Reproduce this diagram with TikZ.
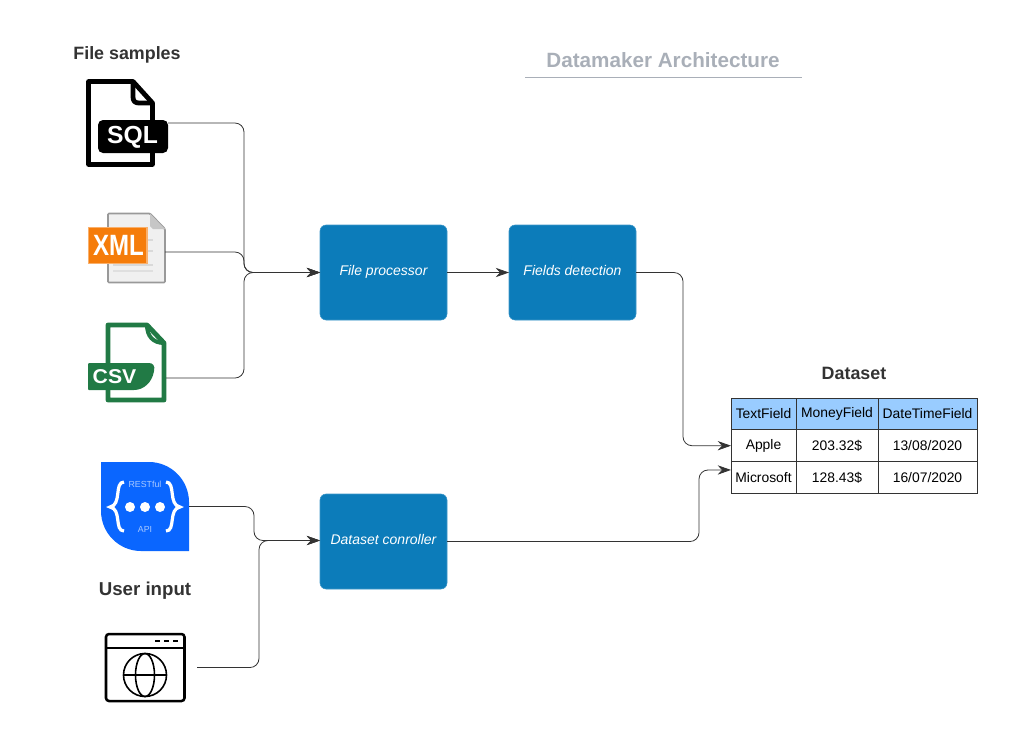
\documentclass[tikz,border=0pt]{standalone}
\usepackage{fontspec}
\setmainfont{Liberation Sans}
\usepackage{xcolor}
\usetikzlibrary{arrows.meta,calc,positioning}

\def\px{0.75pt}
\definecolor{boxblue}{HTML}{0C7CBA}
\definecolor{headblue}{HTML}{99CCFF}
\definecolor{inkgray}{HTML}{333333}
\definecolor{titlegray}{HTML}{A9AFB8}
\definecolor{sqlblack}{HTML}{000000}
\definecolor{xmlorange}{HTML}{F57C0A}
\definecolor{csvgreen}{HTML}{217A45}
\definecolor{restblue}{HTML}{0A66FF}

\tikzset{
  procbox/.style={draw=boxblue!80!white, fill=boxblue, rounded corners=6*\px, minimum width=127*\px,
    minimum height=95*\px, inner sep=0pt, outer sep=0pt, text=white, text depth=3.2pt,
    font=\fontsize{10.5pt}{12pt}\selectfont\itshape},
  cellbox/.style={draw=inkgray, line width=0.75pt, minimum height=31.7*\px, inner sep=0pt, outer sep=0pt,
    text=black, font=\fontsize{10.4pt}{12pt}\selectfont},
  headcell/.style={cellbox, fill=headblue},
  iconbox/.style={inner sep=0pt, outer sep=0pt},
  heading/.style={inner sep=0pt, text=inkgray, font=\fontsize{13.4pt}{15pt}\selectfont\bfseries},
  flow/.style={draw=inkgray, line width=0.6pt, rounded corners=9*\px, -{Stealth[length=10pt,width=7pt]}},
}

\begin{document}
\begin{tikzpicture}[x=\px, y=-\px, >=Stealth]
\useasboundingbox (0,0) rectangle (1030,751);

% =========================================================
% TITLE AND HEADINGS
% =========================================================
\node[inner sep=0pt, text=titlegray, font=\fontsize{15.5pt}{18pt}\selectfont\bfseries] (title) at (663,60.5) {Datamaker Architecture};
\draw[titlegray, line width=0.6pt] (525,77) -- (802,77);
\node[heading] (samples) at (127,55) {File samples};
\node[heading, font=\fontsize{14pt}{15pt}\selectfont\bfseries] (userinput) at (145,591) {User input};
\node[heading] (dataset) at (854,373) {Dataset};

% =========================================================
% LEFT: file icons, each one over an invisible box
% =========================================================
\node[iconbox, minimum width=82*\px, minimum height=88*\px] (sql) at (127,123) {};
\node[iconbox, minimum width=77*\px, minimum height=62*\px] (xml) at (126.5,252) {};
\node[iconbox, minimum width=78*\px, minimum height=48*\px] (csv) at (127,378) {};
\node[iconbox, minimum width=88*\px, minimum height=89*\px] (rest) at (145,506.5) {};
\node[iconbox, minimum width=92*\px, minimum height=69*\px] (web) at (151,667.5) {};

% SQL
\draw[sqlblack, line width=3.6pt, line join=round]
  (133,81.5) -- (88.5,81.5) -- (88.5,164.5) -- (152.5,164.5) -- (152.5,103) -- cycle;
\draw[sqlblack, line width=3.6pt, line join=round] (133,81.5) -- (133,97) .. controls (133,101) and (135,103) .. (139,103) -- (152.5,103);
\fill[sqlblack, rounded corners=5*\px] (98,120) rectangle (168,153);
\node[iconbox, text=white, font=\fontsize{18.5pt}{18pt}\selectfont\bfseries] (sqllabel) at (132.5,137) {SQL};

% XML
\draw[draw=gray!80, fill=gray!12, line width=1.3pt, rounded corners=1*\px]
  (108,213.5) -- (150,213.5) -- (165,229) -- (165,282.5) -- (108,282.5) -- cycle;
\fill[gray!45] (150,213.5) -- (165,229) -- (153,229) -- (150,226) -- cycle;
\foreach \yy in {240,251}{
  \draw[gray!30, line width=1.5pt] (147,\yy) -- (153,\yy);
}
\draw[gray!30, line width=1.5pt] (113,264.5) -- (153,264.5);
\draw[gray!25, line width=1.5pt] (113,271) -- (153,271);
\draw[draw=xmlorange!60!white, fill=xmlorange, line width=1pt] (88.5,227.5) rectangle (147,263.5);
\node[iconbox, text=white, font=\fontsize{22pt}{22pt}\selectfont, xscale=0.82] (xmllabel) at (118.5,245.5) {\textbf{XML}};

% CSV
\draw[csvgreen, line width=3.6pt, line join=round]
  (108,325) -- (147,325) -- (164,343) -- (164,400) -- (108,400) -- cycle;
\draw[csvgreen, line width=3pt] (147,325) .. controls (147,336) and (153,343) .. (164,343);
\fill[csvgreen, rounded corners=1*\px] (88,363) -- (148,363) .. controls (153,363) and (155,366) .. (154,371)
  .. controls (152,382) and (144,390) .. (133,390) -- (88,390) -- cycle;
\node[iconbox, text=white, font=\fontsize{15pt}{15pt}\selectfont\bfseries, xscale=1.06] (csvlabel) at (114.5,377) {CSV};

% REST
\fill[restblue] (101,462) -- (149,462) .. controls (171,462) and (189,480) .. (189,502) -- (189,551)
  -- (141,551) .. controls (119,551) and (101,533) .. (101,511) -- cycle;
\draw[white, line width=2.4pt]
  (124,482) .. controls (114,482) and (122,505) .. (110,507) .. controls (122,509) and (114,531) .. (124,531);
\draw[white, line width=2.4pt]
  (166,482) .. controls (176,482) and (168,505) .. (180,507) .. controls (168,509) and (176,531) .. (166,531);
\foreach \xx in {130,145,160}{
  \fill[white] (\xx,507) circle (5);
}
\node[iconbox, text=white!65!restblue, font=\fontsize{6.6pt}{8pt}\selectfont] (restlabel) at (145,484.5) {RESTful};
\node[iconbox, text=white!65!restblue, font=\fontsize{6.6pt}{8pt}\selectfont] (apilabel) at (145,529) {API};

% browser
\draw[black, line width=1.9pt, rounded corners=3*\px] (106,634) rectangle (184.5,701);
\draw[black, line width=1.5pt] (106,648) -- (184.5,648);
\foreach \xx in {155,164,173}{
  \draw[black, line width=1.5pt] (\xx,641) -- (\xx+5,641);
}
\draw[black, line width=1.2pt] (145,675) circle (21.5);
\draw[black, line width=1.2pt] (145,675) ellipse (9.5 and 21.5);
\draw[black, line width=1.2pt] (123.5,675) -- (166.5,675);

% =========================================================
% MIDDLE: processing boxes
% =========================================================
\node[procbox] (fileproc) at (383.5,272.5) {File processor};
\node[procbox, right=62*\px of fileproc] (fields) {Fields detection};
\node[procbox] (controller) at (383.5,541.5) {Dataset conroller};

% =========================================================
% RIGHT: dataset table
% =========================================================
\node[headcell, minimum width=65*\px] (textfield) at (763.5,414) {TextField};
\node[headcell, minimum width=82*\px, right=0pt of textfield] (moneyfield) {MoneyField};
\node[headcell, minimum width=99*\px, right=0pt of moneyfield] (datefield) {DateTimeField};
\node[cellbox, minimum width=65*\px, below=0pt of textfield] (apple) {Apple};
\node[cellbox, minimum width=82*\px, right=0pt of apple] (applemoney) {203.32\$};
\node[cellbox, minimum width=99*\px, right=0pt of applemoney] (appledate) {13/08/2020};
\node[cellbox, minimum width=65*\px, below=0pt of apple] (microsoft) {Microsoft};
\node[cellbox, minimum width=82*\px, right=0pt of microsoft] (microsoftmoney) {128.43\$};
\node[cellbox, minimum width=99*\px, right=0pt of microsoftmoney] (microsoftdate) {16/07/2020};

% =========================================================
% CONNECTORS
% =========================================================
\coordinate (filebus) at (244,272.5);
\coordinate (inputbusa) at (254,540.5);
\coordinate (inputbusb) at (259,540.5);
\coordinate (tablein) at ([yshift=5.6pt]microsoft.west);

\draw[flow] (sql.east) -| (filebus) -- (fileproc.west);
\draw[flow] (xml.east) -| (filebus) -- (fileproc.west);
\draw[flow] (csv.east) -| (filebus) -- (fileproc.west);
\draw[flow] (fileproc.east) -- (fields.west);
\draw[flow] (fields.east) -- ++(47,0) |- (apple.west);
\draw[flow] (rest.east) -| (inputbusa) -- ([yshift=0.75pt]controller.west);
\draw[flow] (web.east) -| (inputbusb) -- ([yshift=0.75pt]controller.west);
\draw[flow] (controller.east) -| (699,470) -- (tablein);

\end{tikzpicture}
\end{document}
